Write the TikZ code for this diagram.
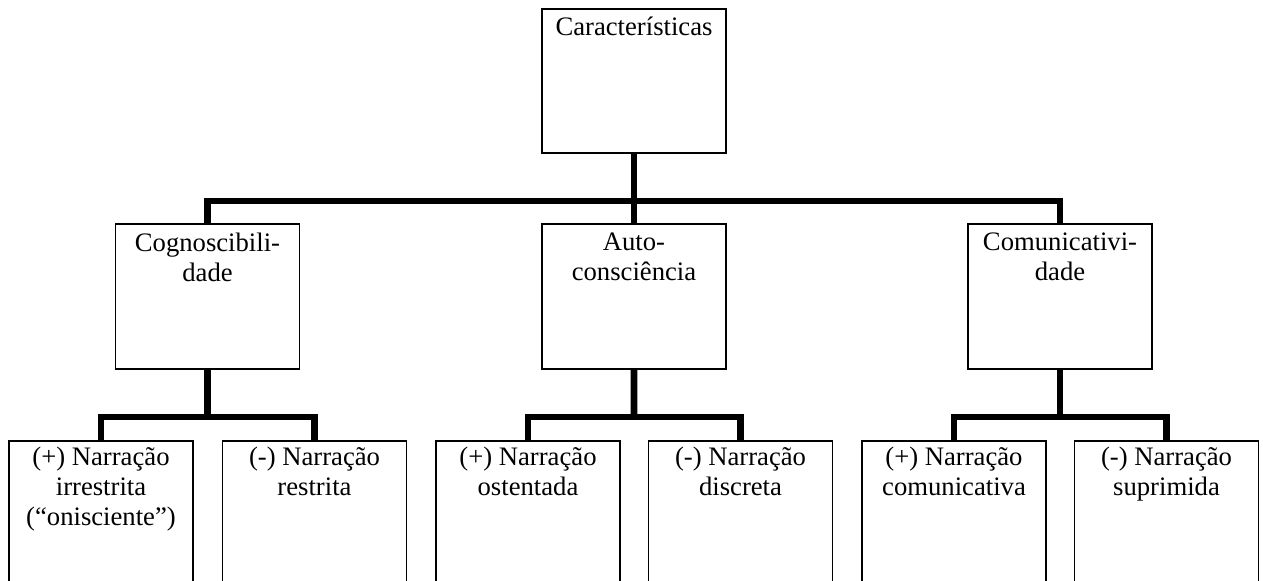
\documentclass[tikz,border=0pt]{standalone}
\usepackage{fontspec}
\setmainfont{Liberation Serif}
\usepackage{tikz}
\usetikzlibrary{calc, positioning}

\tikzset{
    caixa/.style={draw, line width=1pt, minimum width=138pt, inner sep=0pt},
    topo/.style={caixa, minimum height=108pt},
    meio/.style={caixa, minimum height=108.75pt},
    folha/.style={caixa, minimum height=142.5pt},
    texto/.style={anchor=north, align=center, inner sep=5pt, font=\fontsize{20}{22.5}\selectfont},
    ramo/.style={line width=5pt, line join=miter}
}

\begin{document}
\begin{tikzpicture}[x=0.75pt, y=-0.75pt]
    \useasboundingbox (0,0) rectangle (1263,581);
    \clip (0,0) rectangle (1263,581);

    \node[topo, label={[texto, yshift=-1pt]north:{Características}}] (car) at (634,81) {};

    \node[meio, label={[texto, yshift=-2pt]north:{Cognoscibili-\\dade}}] (cog) at (207.5,296.5) {};
    \node[meio, label={[texto, yshift=-2pt]north:{Auto-\\consciência}}] (aut) at (634,296.5) {};
    \node[meio, label={[texto, yshift=-2pt]north:{Comunicativi-\\dade}}] (com) at (1060,296.5) {};

    \node[folha, label={[texto]north:{(+) Narração\\irrestrita\\(“onisciente”)}}] (cog1) at (101,536) {};
    \node[folha, label={[texto]north:{(-) Narração\\restrita}}] (cog2) at (314.5,536) {};
    \node[folha, label={[texto]north:{(+) Narração\\ostentada}}] (aut1) at (528,536) {};
    \node[folha, label={[texto]north:{(-) Narração\\discreta}}] (aut2) at (740.5,536) {};
    \node[folha, label={[texto]north:{(+) Narração\\comunicativa}}] (com1) at (954,536) {};
    \node[folha, label={[texto]north:{(-) Narração\\suprimida}}] (com2) at (1166.5,536) {};

    % tronco principal
    \coordinate (jcar) at ($(car.south)!0.68!(aut.north)$);
    \draw[ramo] (car.south) -- (aut.north);
    \draw[ramo] (cog.north) |- (jcar) -| (com.north);

    % ramos inferiores
    \foreach \p in {cog, aut, com} {
        \coordinate (j\p) at ($(\p.south)!0.67!(\p.south |- \p1.north)$);
        \draw[ramo] (\p.south) -- (j\p);
        \draw[ramo] (\p1.north) |- (j\p) -| (\p2.north);
    }
\end{tikzpicture}
\end{document}
